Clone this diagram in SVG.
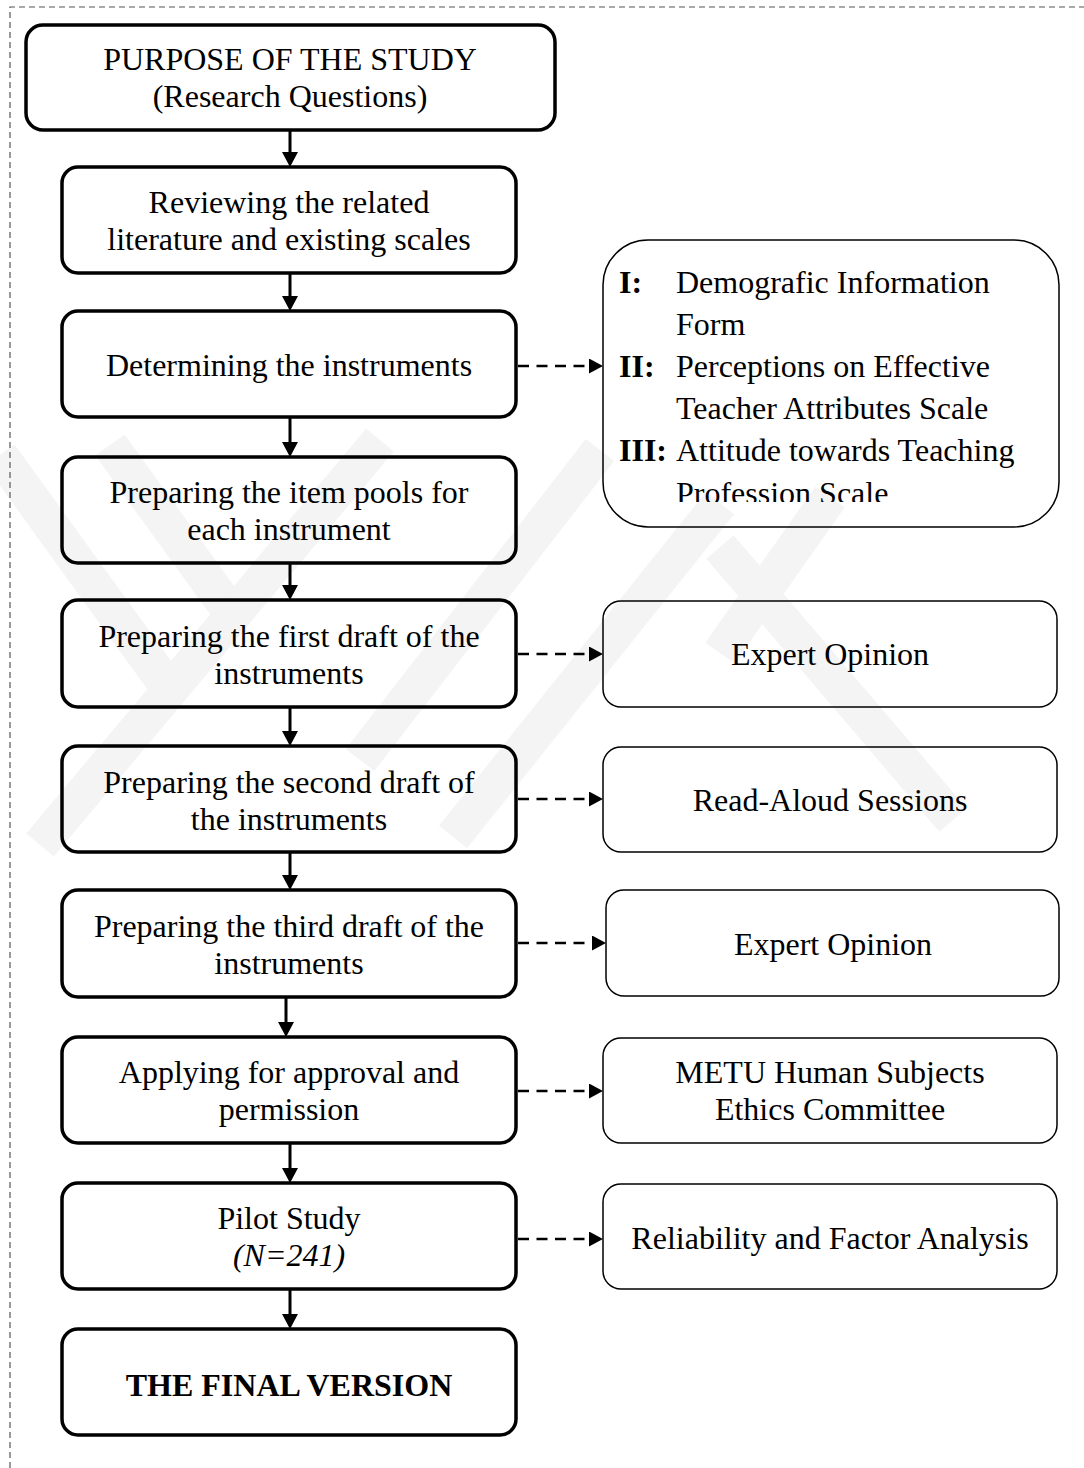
<svg xmlns="http://www.w3.org/2000/svg" width="1084" height="1468" viewBox="0 0 1084 1468">
<style>
.t{font-family:"Liberation Serif","Times New Roman",serif;font-size:32px;fill:#000;text-anchor:middle}
.ts{font-family:"Liberation Serif","Times New Roman",serif;font-size:32px;fill:#000}
.b{font-weight:bold}
.main{fill:none;stroke:#000;stroke-width:3.5}
.side{fill:none;stroke:#000;stroke-width:1.5}
.flow{stroke:#000;stroke-width:3;fill:none}
.dash{stroke:#000;stroke-width:2.5;fill:none;stroke-dasharray:11 7.5}
.wm line{stroke:#f4f4f4;stroke-width:36;stroke-linecap:butt}
</style>
<defs>
<marker id="ah" markerUnits="userSpaceOnUse" markerWidth="16" markerHeight="16" refX="0" refY="8" orient="auto"><path d="M0,0 L15,8 L0,16 z" fill="#000"/></marker>
<marker id="ahd" markerUnits="userSpaceOnUse" markerWidth="15" markerHeight="16" refX="0" refY="7.5" orient="auto"><path d="M0,0 L14,7.5 L0,15 z" fill="#000"/></marker>
<clipPath id="bigclip"><rect x="600" y="236" width="464" height="266"/></clipPath>
</defs>
<rect x="0" y="0" width="1084" height="1468" fill="#fff"/>
<g id="watermark" class="wm">
<line x1="0" y1="455" x2="170" y2="690"/>
<line x1="110" y1="445" x2="240" y2="625"/>
<line x1="40" y1="845" x2="380" y2="440"/>
<line x1="360" y1="760" x2="600" y2="450"/>
<line x1="453" y1="837" x2="720" y2="503"/>
<line x1="720" y1="547" x2="953" y2="820"/>
<line x1="720" y1="653" x2="830" y2="497"/>
</g>
<g id="frame"><path d="M10,1468 V7 H1084" fill="none" stroke="#555" stroke-width="1.2" stroke-dasharray="6 4"/></g>
<g id="connectors">
<line class="flow" x1="290" y1="130" x2="290" y2="152" marker-end="url(#ah)"/>
<line class="flow" x1="290" y1="273" x2="290" y2="296" marker-end="url(#ah)"/>
<line class="flow" x1="290" y1="417" x2="290" y2="442" marker-end="url(#ah)"/>
<line class="flow" x1="290" y1="563" x2="290" y2="585" marker-end="url(#ah)"/>
<line class="flow" x1="290" y1="707" x2="290" y2="731" marker-end="url(#ah)"/>
<line class="flow" x1="290" y1="852" x2="290" y2="875" marker-end="url(#ah)"/>
<line class="flow" x1="286" y1="997" x2="286" y2="1022" marker-end="url(#ah)"/>
<line class="flow" x1="290" y1="1143" x2="290" y2="1168" marker-end="url(#ah)"/>
<line class="flow" x1="290" y1="1289" x2="290" y2="1314" marker-end="url(#ah)"/>
<line class="dash" x1="518" y1="366" x2="589" y2="366" marker-end="url(#ahd)"/>
<line class="dash" x1="518" y1="654" x2="589" y2="654" marker-end="url(#ahd)"/>
<line class="dash" x1="518" y1="799" x2="589" y2="799" marker-end="url(#ahd)"/>
<line class="dash" x1="518" y1="943" x2="592" y2="943" marker-end="url(#ahd)"/>
<line class="dash" x1="518" y1="1091" x2="589" y2="1091" marker-end="url(#ahd)"/>
<line class="dash" x1="518" y1="1239" x2="589" y2="1239" marker-end="url(#ahd)"/>
</g>
<g id="n1"><rect class="main" x="26" y="25" width="529" height="105" rx="17"/>
<text class="t" x="290" y="70">PURPOSE OF THE STUDY</text>
<text class="t" x="290" y="107">(Research Questions)</text></g>
<g id="n2"><rect class="main" x="62" y="167" width="454" height="106" rx="16"/>
<text class="t" x="289" y="213">Reviewing the related</text>
<text class="t" x="289" y="250">literature and existing scales</text></g>
<g id="n3"><rect class="main" x="62" y="311" width="454" height="106" rx="16"/>
<text class="t" x="289" y="376">Determining the instruments</text></g>
<g id="n4"><rect class="main" x="62" y="457" width="454" height="106" rx="16"/>
<text class="t" x="289" y="503">Preparing the item pools for</text>
<text class="t" x="289" y="540">each instrument</text></g>
<g id="n5"><rect class="main" x="62" y="600" width="454" height="107" rx="16"/>
<text class="t" x="289" y="647">Preparing the first draft of the</text>
<text class="t" x="289" y="684">instruments</text></g>
<g id="n6"><rect class="main" x="62" y="746" width="454" height="106" rx="16"/>
<text class="t" x="289" y="793">Preparing the second draft of</text>
<text class="t" x="289" y="830">the instruments</text></g>
<g id="n7"><rect class="main" x="62" y="890" width="454" height="107" rx="16"/>
<text class="t" x="289" y="937">Preparing the third draft of the</text>
<text class="t" x="289" y="974">instruments</text></g>
<g id="n8"><rect class="main" x="62" y="1037" width="454" height="106" rx="16"/>
<text class="t" x="289" y="1083">Applying for approval and</text>
<text class="t" x="289" y="1120">permission</text></g>
<g id="n9"><rect class="main" x="62" y="1183" width="454" height="106" rx="16"/>
<text class="t" x="289" y="1229">Pilot Study</text>
<text class="t" x="289" y="1266" font-style="italic">(N=241)</text></g>
<g id="n10"><rect class="main" x="62" y="1329" width="454" height="106" rx="16"/>
<text class="t b" x="289" y="1396">THE FINAL VERSION</text></g>
<g id="r1"><rect class="side" x="603" y="240" width="456" height="287" rx="45"/>
<g clip-path="url(#bigclip)">
<text class="ts b" x="619" y="293">I:</text><text class="ts" x="676" y="293">Demografic Information</text>
<text class="ts" x="676" y="335">Form</text>
<text class="ts b" x="619" y="377">II:</text><text class="ts" x="676" y="377">Perceptions on Effective</text>
<text class="ts" x="676" y="419">Teacher Attributes Scale</text>
<text class="ts b" x="619" y="461">III:</text><text class="ts" x="676" y="461">Attitude towards Teaching</text>
<text class="ts" x="676" y="504">Profession Scale</text>
</g></g>
<g id="r2"><rect class="side" x="603" y="601" width="454" height="106" rx="18"/>
<text class="t" x="830" y="665">Expert Opinion</text></g>
<g id="r3"><rect class="side" x="603" y="747" width="454" height="105" rx="18"/>
<text class="t" x="830" y="811">Read-Aloud Sessions</text></g>
<g id="r4"><rect class="side" x="606" y="890" width="453" height="106" rx="18"/>
<text class="t" x="833" y="955">Expert Opinion</text></g>
<g id="r5"><rect class="side" x="603" y="1038" width="454" height="105" rx="18"/>
<text class="t" x="830" y="1083">METU Human Subjects</text>
<text class="t" x="830" y="1120">Ethics Committee</text></g>
<g id="r6"><rect class="side" x="603" y="1184" width="454" height="105" rx="18"/>
<text class="t" x="830" y="1249">Reliability and Factor Analysis</text></g>
</svg>
